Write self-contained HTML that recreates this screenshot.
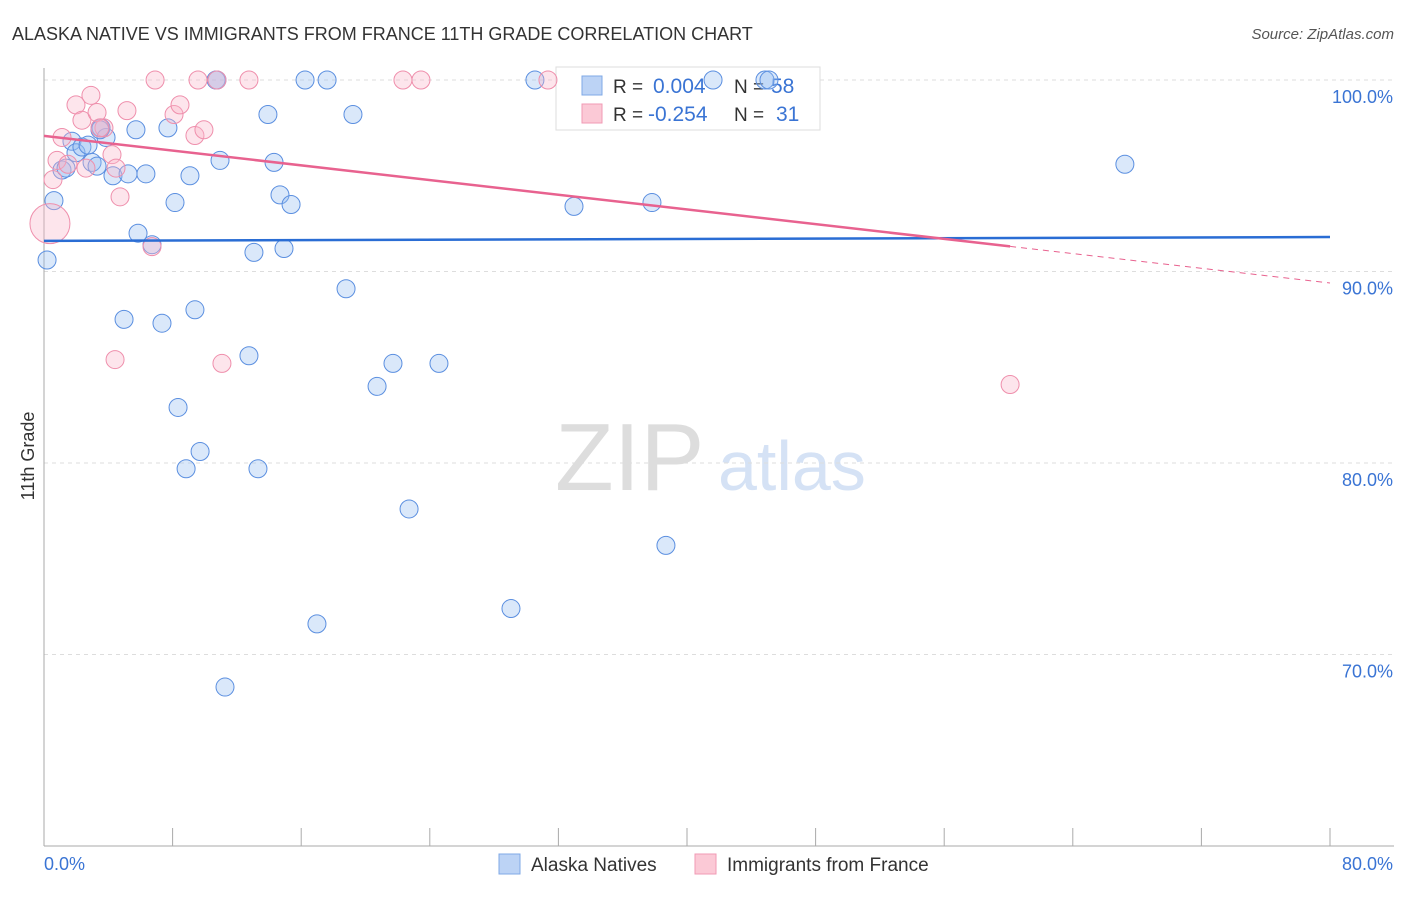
<!DOCTYPE html>
<html><head><meta charset="utf-8"><style>
body{margin:0;background:#fff;font-family:"Liberation Sans",sans-serif;}
svg text{font-family:"Liberation Sans",sans-serif;}
</style></head><body>
<svg id="chart" width="1406" height="892">
<text x="12" y="40" font-size="18" fill="#333">ALASKA NATIVE VS IMMIGRANTS FROM FRANCE 11TH GRADE CORRELATION CHART</text>
<text x="1394" y="39" font-size="15" fill="#555" font-style="italic" text-anchor="end">Source: ZipAtlas.com</text>
<text x="34" y="456" font-size="18" fill="#333" transform="rotate(-90 34 456)" text-anchor="middle">11th Grade</text>
<text x="555" y="490" font-size="96" fill="#ddd" font-family="Liberation Serif">ZIP</text>
<text x="718" y="490" font-size="70" fill="#d5e2f5">atlas</text>
<g id="grid"></g>
<g>
<rect x="556" y="67" width="264" height="63" fill="#fff" stroke="#ddd"/>
<rect x="582" y="76" width="20" height="19" fill="#bcd3f5" stroke="#7fa8e6"/>
<rect x="582" y="104" width="20" height="19" fill="#fbc9d6" stroke="#f09ab4"/>
<text x="613" y="93" font-size="19" fill="#333">R = </text><text x="653" y="93" font-size="21" fill="#3a74d4">0.004</text>
<text x="734" y="93" font-size="19" fill="#333">N = </text><text x="771" y="93" font-size="21" fill="#3a74d4">58</text>
<text x="613" y="121" font-size="19" fill="#333">R = </text><text x="648" y="121" font-size="21" fill="#3a74d4">-0.254</text>
<text x="734" y="121" font-size="19" fill="#333">N = </text><text x="776" y="121" font-size="21" fill="#3a74d4">31</text>
</g>
<g id="pts"></g><g id="lines"></g>
<g>
<rect x="499" y="854" width="21" height="20" fill="#bcd3f5" stroke="#7fa8e6"/>
<text x="531" y="871" font-size="19" fill="#333">Alaska Natives</text>
<rect x="695" y="854" width="21" height="20" fill="#fbc9d6" stroke="#f09ab4"/>
<text x="727" y="871" font-size="19" fill="#333">Immigrants from France</text>
</g>
<text x="44" y="870" font-size="18" fill="#3a74d4">0.0%</text>
<text x="1393" y="870" font-size="18" fill="#3a74d4" text-anchor="end">80.0%</text>
</svg>
<script>
const yTicks=[100,90,80,70];
const yTickLabels=["100.0%","90.0%","80.0%","70.0%"];
const blueX=[0.19,0.62,1.12,1.37,1.74,1.99,2.36,2.74,2.99,3.30,3.55,3.86,4.29,5.23,5.72,6.34,5.85,6.72,7.71,8.15,9.08,10.95,10.70,13.93,14.31,14.68,15.37,13.06,14.93,16.24,17.61,19.22,18.79,9.39,7.34,4.98,12.75,21.71,24.57,20.72,8.34,9.71,8.84,13.31,22.71,38.69,29.05,16.98,11.26,30.54,32.97,37.82,41.62,44.85,67.24,45.10,10.76,3.48];
const blueY=[90.6,93.7,95.3,95.4,96.8,96.2,96.5,96.6,95.7,95.5,97.5,97.0,95.0,95.1,97.4,95.1,92.0,91.4,97.5,93.6,95.0,95.8,100,98.2,95.7,94.0,93.5,91.0,91.2,100,100,98.2,89.1,88.0,87.3,87.5,85.6,85.2,85.2,84.0,82.9,80.6,79.7,79.7,77.6,75.7,72.4,71.6,68.3,100,93.4,93.6,100,100,95.6,100,100,97.4];
const pinkX=[0.37,0.56,0.81,1.12,1.49,1.99,2.36,2.92,3.30,3.73,4.23,4.48,4.73,5.16,4.42,6.72,6.91,8.09,8.46,9.39,9.95,9.58,10.76,12.75,11.07,22.33,23.45,31.35,60.10,2.61,3.48];
const pinkY=[92.5,94.8,95.8,97.0,95.6,98.7,97.9,99.2,98.3,97.5,96.1,95.4,93.9,98.4,85.4,91.3,100,98.2,98.7,97.1,97.4,100,100,100,85.2,100,100,100,84.1,95.4,97.5];
const pinkR=[20,9,9,9,9,9,9,9,9,9,9,9,9,9,9,9,9,9,9,9,9,9,9,9,9,9,9,9,9,9,9];
const blueTrend=[91.6,91.8];
const pinkTrend=[97.08,89.4];
const pinkSolidEnd=60.1;
const X0=44,X1=1330,Y100=80,PX10=191.5;
const sx=v=>X0+(v/80)*(X1-X0);
const sy=v=>Y100+(100-v)*PX10/10;
const NS="http://www.w3.org/2000/svg";
function mk(t,a,p){const e=document.createElementNS(NS,t);for(const k in a)e.setAttribute(k,a[k]);p.appendChild(e);return e;}
const grid=document.getElementById('grid');
yTicks.forEach((t,i)=>{
 const l=mk('line',{x1:X0,x2:1394,y1:sy(t),y2:sy(t),stroke:'#ddd','stroke-dasharray':'4,4'},grid);
 
 
 const tx=mk('text',{x:1393,y:sy(t)+23,'font-size':18,fill:'#3a74d4','text-anchor':'end'},grid);
 tx.textContent=yTickLabels[i];
 
 
});
const ax=mk('line',{x1:X0,x2:X0,y1:68,y2:846,stroke:'#aaa'},grid);


const bx=mk('line',{x1:X0,x2:1394,y1:846,y2:846,stroke:'#aaa'},grid);


for(let i=1;i<=10;i++){const x=X0+i*(X1-X0)/10;const t=mk('line',{x1:x,x2:x,y1:828,y2:846,stroke:'#aaa'},grid);
 
 }
const pts=document.getElementById('pts');
blueX.forEach((v,i)=>{const c=mk('circle',{cx:sx(v),cy:sy(blueY[i]),r:9,fill:'rgba(150,190,240,0.35)',stroke:'#5b8fe0','stroke-width':1},pts);
 
 });
pinkX.forEach((v,i)=>{const c=mk('circle',{cx:sx(v),cy:sy(pinkY[i]),r:pinkR[i],fill:'rgba(248,180,200,0.35)',stroke:'#ef8fac','stroke-width':1},pts);
 
 });
const lines=document.getElementById('lines');
const bl=mk('line',{x1:sx(0),y1:sy(blueTrend[0]),x2:sx(80),y2:sy(blueTrend[1]),stroke:'#2a6dd4','stroke-width':2.5},lines);


const pm=pinkTrend[0]+(pinkTrend[1]-pinkTrend[0])*pinkSolidEnd/80;
const pl=mk('line',{x1:sx(0),y1:sy(pinkTrend[0]),x2:sx(pinkSolidEnd),y2:sy(pm),stroke:'#e8628f','stroke-width':2.5},lines);


const pd=mk('line',{x1:sx(pinkSolidEnd),y1:sy(pm),x2:sx(80),y2:sy(pinkTrend[1]),stroke:'#e8628f','stroke-width':1,'stroke-dasharray':'6,5'},lines);


</script>
</body></html>
